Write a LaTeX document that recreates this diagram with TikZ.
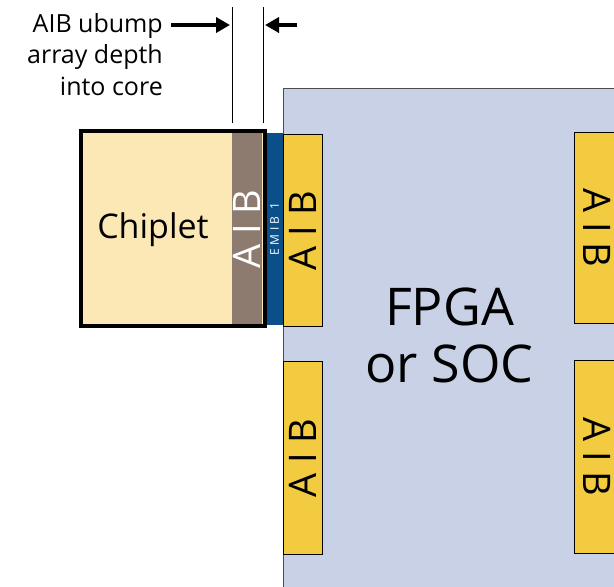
\documentclass[tikz,border=0pt]{standalone}
\usepackage{fontspec}
\setmainfont{Open Sans}
\usetikzlibrary{arrows.meta}
\definecolor{fpga}{HTML}{C9D1E6}
\definecolor{aibY}{HTML}{F3CB40}
\definecolor{chip}{HTML}{FCE8B4}
\definecolor{aibBr}{HTML}{8C7B6E}
\definecolor{emib}{HTML}{0B4F8A}
\tikzset{
  aibbox/.style={draw=black, line width=1.2pt, fill=aibY},
  aibtext/.style={font=\fontsize{38}{40}\selectfont, inner sep=0pt},
  dimline/.style={line width=1pt, black},
  dimarrow/.style={line width=4pt, -{Triangle[length=14pt,width=15pt]}},
  lbltext/.style={font=\fontsize{25}{30}\selectfont, anchor=base east, inner sep=0pt},
  bigtext/.style={font=\fontsize{52}{57}\selectfont, anchor=base, inner sep=0pt},
}
\begin{document}
\begin{tikzpicture}[x=1pt,y=-1pt]
\useasboundingbox (0,0) rectangle (614,587);
\clip (0,0) rectangle (614,587);
% FPGA
\node[draw=black!70, line width=1pt, fill=fpga, minimum width=340pt, minimum height=510pt, anchor=north west, inner sep=0pt] (fpga) at (283,88) {};
\node[bigtext] (fpgatext1) at (449.5,325) {FPGA};
\node[bigtext] (fpgatext2) at (449.5,382) {or SOC};
% AIB blocks on FPGA
\node[aibbox, minimum width=39pt, minimum height=192pt, anchor=north west, inner sep=0pt] (aib1) at (283,134) {};
\node[aibtext, rotate=90] (aib1t) at (aib1.center) {A I B};
\node[aibbox, minimum width=39pt, minimum height=193pt, anchor=north west, inner sep=0pt] (aib2) at (283,361) {};
\node[aibtext, rotate=90] (aib2t) at (aib2.center) {A I B};
\node[aibbox, minimum width=60pt, minimum height=191pt, anchor=north west, inner sep=0pt] (aib3) at (574,132) {};
\node[aibtext, rotate=-90] (aib3t) at (597,228) {A I B};
\node[aibbox, minimum width=60pt, minimum height=193pt, anchor=north west, inner sep=0pt] (aib4) at (574,360) {};
\node[aibtext, rotate=-90] (aib4t) at (597,457) {A I B};
% EMIB
\node[fill=emib, minimum width=19pt, minimum height=192pt, anchor=north west, inner sep=0pt] (emib) at (264,133) {};
\node[white, rotate=90, font=\fontsize{12}{12}\selectfont\addfontfeature{LetterSpace=28}, inner sep=0pt] (emibt) at (274.5,229) {EMIB 1};
% Chiplet
\node[fill=chip, minimum width=184pt, minimum height=195pt, anchor=north west, inner sep=0pt] (chip) at (81,131) {};
\node[fill=aibBr, minimum width=30pt, minimum height=195pt, anchor=north west, inner sep=0pt] (chipaib) at (232,131) {};
\draw[line width=4pt] (chip.north west) rectangle (chip.south east);
\node[aibtext, white, rotate=90] (chipaibt) at (247,229) {A I B};
\node[font=\fontsize{34}{36}\selectfont, anchor=base, inner sep=0pt] (chipt) at (153,238) {Chiplet};
% dimension
\coordinate (d1top) at (232,7);
\coordinate (d1bot) at (232,123);
\coordinate (d2top) at (263,7);
\coordinate (d2bot) at (263,123);
\draw[dimline] (d1top) -- (d1bot);
\draw[dimline] (d2top) -- (d2bot);
\coordinate (a1s) at (171,25);
\coordinate (a1e) at (230,25);
\coordinate (a2s) at (297,25);
\coordinate (a2e) at (265,25);
\draw[dimarrow] (a1s) -- (a1e);
\draw[dimarrow] (a2s) -- (a2e);
\node[lbltext] (lbl1) at (163,32) {AIB ubump};
\node[lbltext] (lbl2) at (163,63.5) {array depth};
\node[lbltext] (lbl3) at (163,95) {into core};
\end{tikzpicture}
\end{document}
